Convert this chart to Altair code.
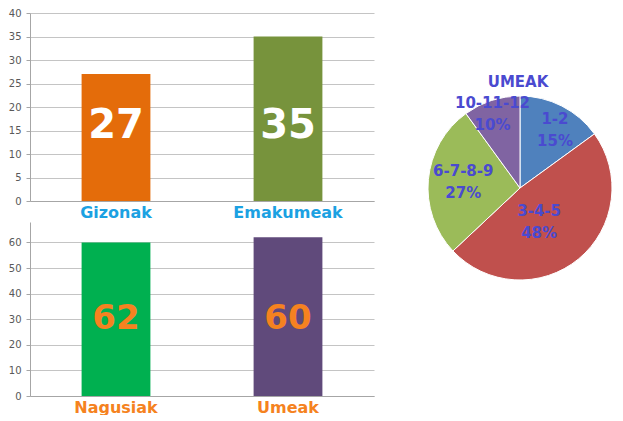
import altair as alt
import pandas as pd

# ---- data ----
top_cats = ["Gizonak", "Emakumeak"]
top_vals = [27, 35]
top_labels = ["27", "35"]
top_colors = ["#e46c0a", "#77933c"]

bot_cats = ["Nagusiak", "Umeak"]
bot_vals = [60, 62]
bot_labels = ["62", "60"]
bot_colors = ["#00b050", "#604a7b"]

pie_cats = ["1-2", "3-4-5", "6-7-8-9", "10-11-12"]
pie_vals = [15, 48, 27, 10]
pie_colors = ["#4f81bd", "#c0504d", "#9bbb59", "#8064a2"]
pie_title = "UMEAK"

FONT = "DejaVu Sans"
W = 344


def bar_panel(key, cats, vals, labels, colors, ymax, ticks, h, label_color,
              num_color, num_size, num_y):
    c, v, l = key + "_cat", key + "_val", key + "_label"
    df = pd.DataFrame({c: cats, v: vals, l: labels})
    x = alt.X(f"{c}:N", sort=cats,
              scale=alt.Scale(paddingInner=0.6, paddingOuter=0.3),
              axis=alt.Axis(title=None, labelAngle=0, labelFont=FONT,
                            labelFontWeight="bold", labelFontSize=16,
                            labelColor=label_color, ticks=False,
                            domainColor="#a6a6a6", labelPadding=3))
    yscale = alt.Scale(domain=[0, ymax], nice=False)
    yaxis = alt.Axis(title=None, values=ticks, gridColor="#c4c4c4",
                     domainColor="#a6a6a6", tickColor="#a6a6a6",
                     tickSize=4, labelColor="#595959", labelFontSize=10,
                     labelFont=FONT, labelPadding=5)
    bars = alt.Chart(df).mark_bar().encode(
        x=x, y=alt.Y(f"{v}:Q", scale=yscale, axis=yaxis),
        color=alt.Color(f"{c}:N", scale=alt.Scale(domain=cats, range=colors),
                        legend=None))
    text = alt.Chart(df).mark_text(font=FONT, fontWeight="bold",
                                   fontSize=num_size, color=num_color,
                                   baseline="middle").encode(
        x=alt.X(f"{c}:N", sort=cats),
        y=alt.YDatum(num_y, scale=yscale, axis=yaxis),
        text=f"{l}:N")
    return alt.layer(bars, text).properties(width=W, height=h)


top = bar_panel("top", top_cats, top_vals, top_labels, top_colors, 40,
                [0, 5, 10, 15, 20, 25, 30, 35, 40], 188, "#1ba1e2",
                "white", 40, 16)
bottom = bar_panel("bot", bot_cats, bot_vals, bot_labels, bot_colors, 68,
                   [0, 10, 20, 30, 40, 50, 60], 174, "#f58220",
                   "#f58220", 34, 30)

left = alt.vconcat(top, bottom, spacing=2).resolve_scale(color="independent")

pie_df = pd.DataFrame({"pcat": pie_cats, "pval": pie_vals,
                       "order": list(range(len(pie_cats)))})
base = alt.Chart(pie_df).encode(
    theta=alt.Theta("pval:Q", stack=True),
    order=alt.Order("order:Q"),
)
arcs = base.mark_arc(outerRadius=92, stroke="white", strokeWidth=1).encode(
    color=alt.Color("pcat:N", scale=alt.Scale(domain=pie_cats, range=pie_colors),
                    legend=None))

txt_style = dict(font=FONT, fontWeight="bold", fontSize=15, color="#4a4ad0",
                 lineBreak="\n", lineHeight=22, baseline="middle")


def label_layer(cat, radius, dy=0):
    return base.transform_calculate(
        plabel="datum.pcat + '\\n' + datum.pval + '%'"
    ).mark_text(radius=radius, dy=dy, **txt_style).encode(
        text=alt.condition(f"datum.pcat == '{cat}'", "plabel:N", alt.value("")))


lab1 = label_layer(pie_cats[0], 77)
lab2 = label_layer(pie_cats[1], 30)
lab3 = label_layer(pie_cats[2], 57, -12)
lab4 = label_layer(pie_cats[3], 89)

title = alt.Chart(pd.DataFrame({"t": [pie_title]})).mark_text(
    font=FONT, fontWeight="bold", fontSize=15, color="#4a4ad0").encode(
    x=alt.value(93), y=alt.value(69), text="t:N")

pie = alt.layer(arcs, lab1, lab2, lab3, lab4, title).properties(
    width=190, height=350)

chart = alt.hconcat(left, pie, spacing=51, padding=0).resolve_scale(
    color="independent").configure_view(stroke=None)

chart.save("out.html", embed_options={"renderer": "svg", "actions": False})
